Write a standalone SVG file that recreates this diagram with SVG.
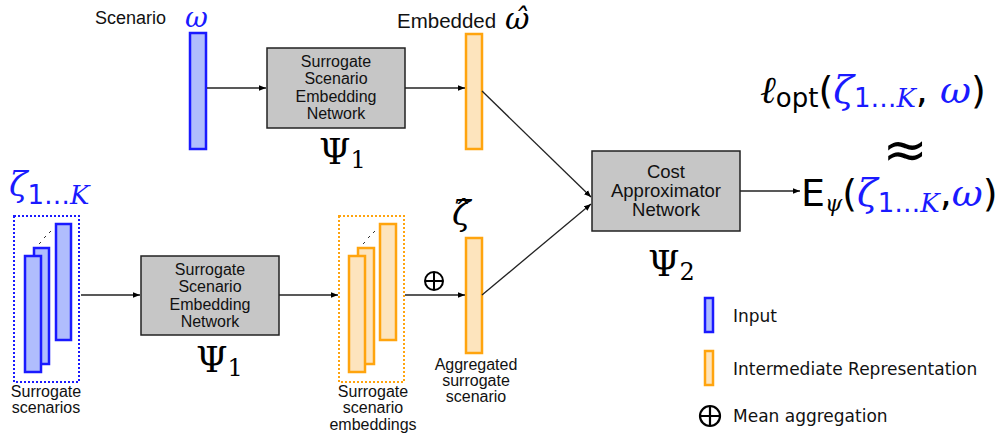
<svg xmlns="http://www.w3.org/2000/svg" width="1005" height="444" viewBox="0 0 1005 444">
<defs>
<marker id="ah" viewBox="0 0 10 10" refX="10" refY="5" markerWidth="7" markerHeight="7" orient="auto" markerUnits="userSpaceOnUse"><path d="M0,1 L10,5 L0,9 Z" fill="#000"/></marker>
<style>
.in{fill:#b0bdfd;stroke:#1a1aff;stroke-width:2.5}
.mid{fill:#fde4bd;stroke:#ffa40e;stroke-width:2.5}
.net{fill:#c6c6c6;stroke:#222;stroke-width:1.5}
.nt{font-family:"Liberation Sans",sans-serif;font-size:16px;fill:#111;text-anchor:middle}
.ct{font-family:"Liberation Sans",sans-serif;font-size:18.5px;fill:#111;text-anchor:middle}
.lbl{font-family:"Liberation Sans",sans-serif;font-size:18px;fill:#111}
.leg{font-family:"DejaVu Sans",sans-serif;font-size:17px;fill:#111}
.psi{font-family:"DejaVu Serif",serif;font-size:36px;fill:#000}
.m{font-family:"DejaVu Serif",serif;font-style:italic;fill:#1a1aff}
.con{stroke:#222;stroke-width:1.3;fill:none;marker-end:url(#ah)}
</style>
</defs>

<g id="scenario-input">
<text class="lbl" x="95" y="24">Scenario</text>
<text class="m" x="185" y="27" style="font-size:28px">ω</text>
<rect class="in" x="190" y="33" width="16" height="116"/>
</g>

<g id="net-top">
<rect class="net" x="267" y="48" width="138" height="80"/>
<text class="nt" x="336" y="67">Surrogate</text>
<text class="nt" x="336" y="84">Scenario</text>
<text class="nt" x="336" y="102">Embedding</text>
<text class="nt" x="336" y="119">Network</text>
<text class="psi" x="319" y="164">Ψ<tspan style="font-size:24px" dy="4">1</tspan></text>
</g>

<g id="embedded-top">
<text class="lbl" x="397" y="28" style="font-size:20.5px">Embedded</text>
<text x="505" y="29" font-family="DejaVu Serif" font-style="italic" font-size="30" fill="#000">ω̂</text>
<rect class="mid" x="466" y="34" width="16" height="115"/>
</g>

<g id="surrogate-input">
<text class="m" x="9" y="196" style="font-size:34px">ζ<tspan font-style="normal" font-family="DejaVu Sans" style="font-size:26px" dy="8">1…</tspan><tspan style="font-size:26px">K</tspan></text>
<rect x="14" y="216" width="65" height="166" fill="none" stroke="#1a1aff" stroke-width="2" stroke-dasharray="2,2"/>
<rect class="in" x="56" y="224" width="15" height="116"/>
<rect class="in" x="34" y="248" width="15" height="116"/>
<rect class="in" x="25" y="256" width="16" height="116"/>
<path d="M39,244 L41,242 M44,238 L46,236 M49,233 L51,231" stroke="#333" stroke-width="1"/>
<text class="nt" x="46" y="397">Surrogate</text>
<text class="nt" x="46" y="413">scenarios</text>
</g>

<g id="net-bottom">
<rect class="net" x="141" y="256" width="138" height="79"/>
<text class="nt" x="210" y="275">Surrogate</text>
<text class="nt" x="210" y="292">Scenario</text>
<text class="nt" x="210" y="310">Embedding</text>
<text class="nt" x="210" y="327">Network</text>
<text class="psi" x="196" y="372">Ψ<tspan style="font-size:24px" dy="4">1</tspan></text>
</g>

<g id="surrogate-embeddings">
<rect x="339" y="216" width="65" height="166" fill="none" stroke="#ffa40e" stroke-width="2" stroke-dasharray="2,2"/>
<rect class="mid" x="380" y="224" width="16" height="116"/>
<rect class="mid" x="358" y="248" width="16" height="116"/>
<rect class="mid" x="349" y="256" width="16" height="116"/>
<path d="M363,244 L365,242 M368,238 L370,236 M373,233 L375,231" stroke="#333" stroke-width="1"/>
<text class="nt" x="373" y="397">Surrogate</text>
<text class="nt" x="373" y="413">scenario</text>
<text class="nt" x="373" y="430">embeddings</text>
</g>

<g id="aggregated">
<text x="452" y="225" font-family="DejaVu Serif" font-style="italic" font-size="34" fill="#000">ζ̂</text>
<rect class="mid" x="466" y="238" width="16" height="115"/>
<text class="nt" x="476" y="370">Aggregated</text>
<text class="nt" x="476" y="386">surrogate</text>
<text class="nt" x="476" y="402">scenario</text>
</g>

<g id="net-cost">
<rect class="net" x="592" y="151" width="148" height="80"/>
<text class="ct" x="666" y="178">Cost</text>
<text class="ct" x="666" y="197">Approximator</text>
<text class="ct" x="666" y="216">Network</text>
<text class="psi" x="648" y="276">Ψ<tspan style="font-size:24px" dy="4">2</tspan></text>
</g>

<g id="output">
<text x="760" y="103" font-family="DejaVu Serif" font-size="38" fill="#000"><tspan font-style="italic">ℓ</tspan><tspan font-family="DejaVu Sans" font-size="26" dy="4">opt</tspan><tspan font-family="DejaVu Sans" dy="-4">(</tspan><tspan font-style="italic" fill="#1a1aff">ζ</tspan><tspan font-family="DejaVu Sans" font-size="26" fill="#1a1aff" dy="4">1…</tspan><tspan font-style="italic" font-size="26" fill="#1a1aff">K</tspan><tspan font-family="DejaVu Sans" dy="-4">, </tspan><tspan font-style="italic" fill="#1a1aff">ω</tspan><tspan font-family="DejaVu Sans">)</tspan></text>
<text x="905" y="168" font-family="DejaVu Sans" font-size="54" fill="#000" text-anchor="middle">≈</text>
<text x="801" y="206" font-family="DejaVu Sans" font-size="38" fill="#000">E<tspan font-family="DejaVu Serif" font-style="italic" font-size="22" dy="5">ψ</tspan><tspan dy="-5">(</tspan><tspan font-family="DejaVu Serif" font-style="italic" fill="#1a1aff">ζ</tspan><tspan font-size="26" fill="#1a1aff" dy="6">1…</tspan><tspan font-family="DejaVu Serif" font-style="italic" font-size="26" fill="#1a1aff">K</tspan><tspan dy="-6">,</tspan><tspan font-family="DejaVu Serif" font-style="italic" fill="#1a1aff">ω</tspan>)</text>
</g>

<g id="legend">
<rect class="in" x="705" y="298" width="8" height="34" stroke-width="1.5"/>
<text class="leg" x="733" y="322">Input</text>
<rect class="mid" x="705" y="351" width="8" height="34" stroke-width="1.5"/>
<text class="leg" x="733" y="375">Intermediate Representation</text>
<circle cx="710" cy="416" r="10" fill="none" stroke="#000" stroke-width="2.2"/>
<path d="M710,407 V425 M701,416 H719" stroke="#000" stroke-width="2.2"/>
<text class="leg" x="733" y="422">Mean aggregation</text>
</g>

<g id="connectors">
<line class="con" x1="207" y1="88" x2="266" y2="88"/>
<line class="con" x1="405" y1="88" x2="465" y2="88"/>
<line class="con" x1="81" y1="295" x2="140" y2="295"/>
<line class="con" x1="279" y1="295" x2="338" y2="295"/>
<line class="con" x1="405" y1="295" x2="465" y2="295"/>
<line class="con" x1="482" y1="91" x2="591" y2="197"/>
<line class="con" x1="482" y1="295" x2="591" y2="204"/>
<line class="con" x1="740" y1="191" x2="800" y2="191"/>
<circle cx="434" cy="281" r="9" fill="none" stroke="#000" stroke-width="2"/>
<path d="M434,273 V289 M426,281 H442" stroke="#000" stroke-width="2"/>
</g>
</svg>
